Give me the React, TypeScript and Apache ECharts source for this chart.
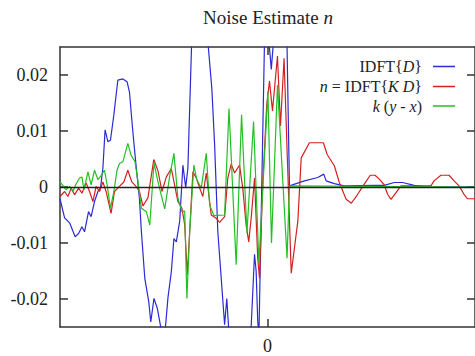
import React, { useEffect, useRef } from "react";
import * as echarts from "echarts";

// x: lag (samples), y: amplitude
const idftD: [number, number][] = [
  [-104, -0.0021], [-101.7, -0.0055], [-99.2, -0.0064], [-96.4, -0.0089], [-94.7, -0.0083], [-93, -0.0071],
  [-91.7, -0.008], [-89.7, -0.0044], [-88.4, -0.0053], [-86.7, -0.0026], [-85, -0.0008], [-83.7, -0.0002],
  [-82.5, 0.0034], [-81.4, 0.0102], [-80, 0.0081], [-78.7, 0.0084], [-77, 0.0129], [-75, 0.0191],
  [-72.5, 0.0193], [-70.4, 0.0188], [-69.2, 0.017], [-67.5, 0.0099], [-65.9, 0.0039], [-64.2, -0.002],
  [-63.2, -0.008], [-61.5, -0.0163], [-59.5, -0.0205], [-58.5, -0.0241], [-56.9, -0.0199], [-55.2, -0.0217],
  [-53, -0.026], [-51.5, -0.0265], [-49.9, -0.0198], [-48.2, -0.0151], [-46.9, -0.0092], [-45.7, -0.0098],
  [-44, -0.0061], [-42.4, 0.0039], [-41, -0.0001], [-39.9, 0.0034], [-38, 0.026], [-34, 0.04],
  [-29.9, 0.026], [-27.9, 0.0176], [-26.5, 0.0075], [-24.9, -0.008], [-23.2, -0.0163], [-21.5, -0.0246],
  [-20.4, -0.0199], [-19.4, -0.0257], [-14, -0.038], [-8.2, -0.025], [-6.5, -0.012], [-5.7, -0.015],
  [-4.9, -0.0239], [-4.3, -0.0266], [-1.5, 0.0261], [0.5, 0.027], [1.9, 0.021], [3, 0.026],
  [6, 0.0296], [9.7, 0.027], [11, 0.0002], [18.5, 0.0011], [25.2, 0.0017], [28.2, 0.0023],
  [29.4, 0.0011], [33.5, 0.0006], [38.5, 0.0002], [53.5, 0.0003], [58.5, 0.0003], [63.5, 0.0008],
  [67.7, 0.0008], [73.5, 0.0003], [80.2, 0], [104, 0],
];

const idftKD: [number, number][] = [
  [-104, -0.0017], [-101.7, -0.0008], [-100, -0.0017], [-98.4, -0.0002], [-96.7, -0.0014], [-94.7, -0.0002],
  [-93, -0.0011], [-90.9, 0.0007], [-89.2, -0.0008], [-87.5, -0.0026], [-85.9, 0.0001], [-84.2, -0.0008],
  [-82.5, 0.0009], [-80.9, -0.0008], [-78.4, -0.0047], [-76.7, -0.0008], [-74.2, 0.0001], [-72, 0.0009],
  [-70, 0.003], [-68, 0.0009], [-65.9, 0.0001], [-64.2, -0.0008], [-62.4, -0.0034], [-59.9, -0.0019],
  [-57, 0.0049], [-54.9, 0.0029], [-52.9, -0.0008], [-50.7, 0.0018], [-48.2, 0.0033], [-44.9, -0.0026],
  [-42.9, -0.0038], [-41.5, -0.0067], [-40.2, -0.0157], [-39, -0.008], [-37.4, 0.0027], [-35.7, 0.0016],
  [-34, -0.0002], [-32.4, -0.0017], [-30.7, 0.0025], [-28.2, -0.005], [-25.7, -0.0056], [-24, -0.0063],
  [-21.5, -0.0053], [-19.9, 0.0016], [-18.2, 0.0041], [-16.5, 0.0025], [-14, 0.0039], [-12.4, -0.0002],
  [-10.7, -0.0068], [-9.4, -0.0098], [-8.2, -0.0056], [-6.5, 0.0016], [-4.9, -0.0127], [-4, -0.0163],
  [-2.4, 0.0004], [-0.4, 0.0146], [1, 0.0189], [2.5, 0.0136], [5, 0.0234], [6.5, 0.0109],
  [8.3, 0.023], [10, 0.0046], [11.9, -0.0154], [15.2, -0.0061], [16.9, 0.0052], [21, 0.0079],
  [28, 0.0079], [29.9, 0.0058], [33.5, 0.0038], [36, 0.0008], [39.4, -0.0022], [42, -0.0029],
  [45.2, -0.0013], [48.5, 0.0005], [51.5, 0.0021], [53.9, 0.0021], [56, 0.0014], [58.5, 0.0004],
  [60.2, -0.0013], [61.9, -0.0022], [64.4, -0.001], [66.9, 0.0002], [81.9, 0.0002], [83.5, 0.0011],
  [86.9, 0.0021], [91, 0.0021], [93.5, 0.0011], [96, 0.0002], [98.5, -0.0013], [100.2, -0.0021],
  [104, -0.0021],
];

const kyx: [number, number][] = [
  [-104, 0.0009], [-100.9, -0.0005], [-99.2, 0.0001], [-97.5, -0.0008], [-96, 0.0005], [-94.2, 0.0016],
  [-93, 0.0018], [-92, -0.0005], [-90, 0.0027], [-88.4, 0.0004], [-86.7, 0.003], [-85, 0.0013],
  [-83.5, 0.002], [-81.7, 0.003], [-80.4, 0.0004], [-78.7, -0.0038], [-77, -0.0008], [-75.4, 0.003],
  [-74.2, 0.0042], [-72.5, 0.0045], [-70, 0.0078], [-68.4, 0.0057], [-66.4, 0.0045], [-64.9, 0.0009],
  [-63.2, -0.0038], [-60.7, -0.0044], [-59, -0.0068], [-56.9, 0.0043], [-55, 0.0011], [-53, -0.0018],
  [-51.5, -0.0039], [-49, 0.002], [-46.9, 0.006], [-44.9, -0.002], [-42.9, -0.0044], [-41.5, -0.0043],
  [-40.4, -0.0199], [-39, -0.0079], [-36.9, 0.0039], [-35.5, 0.0014], [-33.2, -0.0002], [-30.7, 0.006],
  [-29, -0.0032], [-26.9, -0.0051], [-21.5, -0.005], [-19.3, 0.014], [-15.7, -0.0139], [-13, 0.0129],
  [-10.3, -0.0082], [-7, 0.0117], [-4.3, -0.0136], [0.2, 0.0171], [2, -0.01], [5, 0.0182],
  [9.8, -0.0127], [11, 0.0002], [104, 0],
];

const xTickValues = [0];
const yTickValues = [-0.02, -0.01, 0, 0.01, 0.02];
const yTickLabels = ["-0.02", "-0.01", "0", "0.01", "0.02"];
const titleText = "Noise Estimate {i|n}";
const legendTexts = ["IDFT{{i|D}}", "{i|n} = IDFT{{i|K D}}", "{i|k} ({i|y} - {i|x})"];
const colors = ["#2a2ad6", "#d42020", "#22c022"];

const SERIF = "'Liberation Serif', 'DejaVu Serif', serif";

export default function App() {
  const ref = useRef<HTMLDivElement>(null);
  useEffect(() => {
    if (!ref.current) return;
    const chart = echarts.init(ref.current, undefined, { renderer: "svg" });
    const frame = { color: "#333", width: 1.5 };
    const tick = { show: true, inside: true, length: 8, lineStyle: frame };
    const richItalic = { i: { fontStyle: "italic", fontFamily: SERIF } };
    const legendGraphics: any[] = [];
    const rowY = [66.5, 86.5, 106];
    legendTexts.forEach((t, i) => {
      legendGraphics.push({
        type: "text",
        x: 422,
        y: rowY[i],
        style: {
          text: t,
          fontFamily: SERIF,
          fontSize: 16,
          fill: "#222",
          align: "right",
          verticalAlign: "middle",
          rich: { i: { fontStyle: "italic", fontFamily: SERIF, fontSize: 16, fill: "#222" } },
        },
      });
      legendGraphics.push({
        type: "line",
        shape: { x1: 433, y1: rowY[i], x2: 455, y2: rowY[i] },
        style: { stroke: colors[i], lineWidth: 1.5 },
      });
    });
    const seriesData = [idftD, idftKD, kyx];
    const names = ["IDFT{D}", "n = IDFT{K D}", "k (y - x)"];
    chart.setOption({
      animation: false,
      grid: { left: 60, right: -1, top: 47, bottom: 29 },
      xAxis: [
        {
          type: "value", min: -104, max: 104, position: "bottom",
          axisLine: { show: true, onZero: false, lineStyle: frame },
          axisTick: { ...tick, customValues: xTickValues },
          axisLabel: {
            customValues: xTickValues, formatter: () => "0",
            fontFamily: SERIF, fontSize: 18, color: "#222", margin: 10,
          },
          splitLine: { show: false },
        },
        {
          type: "value", min: -104, max: 104, position: "top",
          axisLine: { show: true, onZero: false, lineStyle: frame },
          axisTick: { ...tick, customValues: xTickValues },
          axisLabel: { show: false },
          splitLine: { show: false },
        },
      ],
      yAxis: [
        {
          type: "value", min: -0.025, max: 0.025, position: "left",
          axisLine: { show: true, onZero: false, lineStyle: frame },
          axisTick: { ...tick, customValues: yTickValues },
          axisLabel: {
            customValues: yTickValues,
            formatter: (v: number) => {
              const idx = yTickValues.findIndex((t) => Math.abs(t - v) < 1e-9);
              return idx >= 0 ? yTickLabels[idx] : "";
            },
            fontFamily: SERIF, fontSize: 18, color: "#222", margin: 12,
          },
          splitLine: { show: false },
        },
        {
          type: "value", min: -0.025, max: 0.025, position: "right",
          axisLine: { show: true, onZero: false, lineStyle: frame },
          axisTick: { ...tick, customValues: yTickValues },
          axisLabel: { show: false },
          splitLine: { show: false },
        },
      ],
      series: seriesData.map((d, i) => ({
        name: names[i],
        type: "line",
        data: d,
        showSymbol: false,
        symbol: "none",
        clip: true,
        lineStyle: { color: colors[i], width: 1.2 },
        itemStyle: { color: colors[i] },
        z: 2 + i,
        ...(i === 0
          ? {
              markLine: {
                silent: true,
                symbol: "none",
                label: { show: false },
                lineStyle: { color: "#222", width: 1.3, type: "solid" },
                data: [{ yAxis: 0 }],
              },
            }
          : {}),
      })),
      graphic: [
        {
          type: "text",
          x: 268,
          y: 17,
          style: {
            text: titleText,
            fontFamily: SERIF,
            fontSize: 19,
            fill: "#222",
            align: "center",
            verticalAlign: "middle",
            rich: { i: { ...richItalic.i, fontSize: 19, fill: "#222" } },
          },
        },
        ...legendGraphics,
      ],
    });
    return () => chart.dispose();
  }, []);
  return (
    <div
      ref={ref}
      style={{ position: "absolute", left: 0, top: 0, width: 475, height: 356 }}
    />
  );
}
